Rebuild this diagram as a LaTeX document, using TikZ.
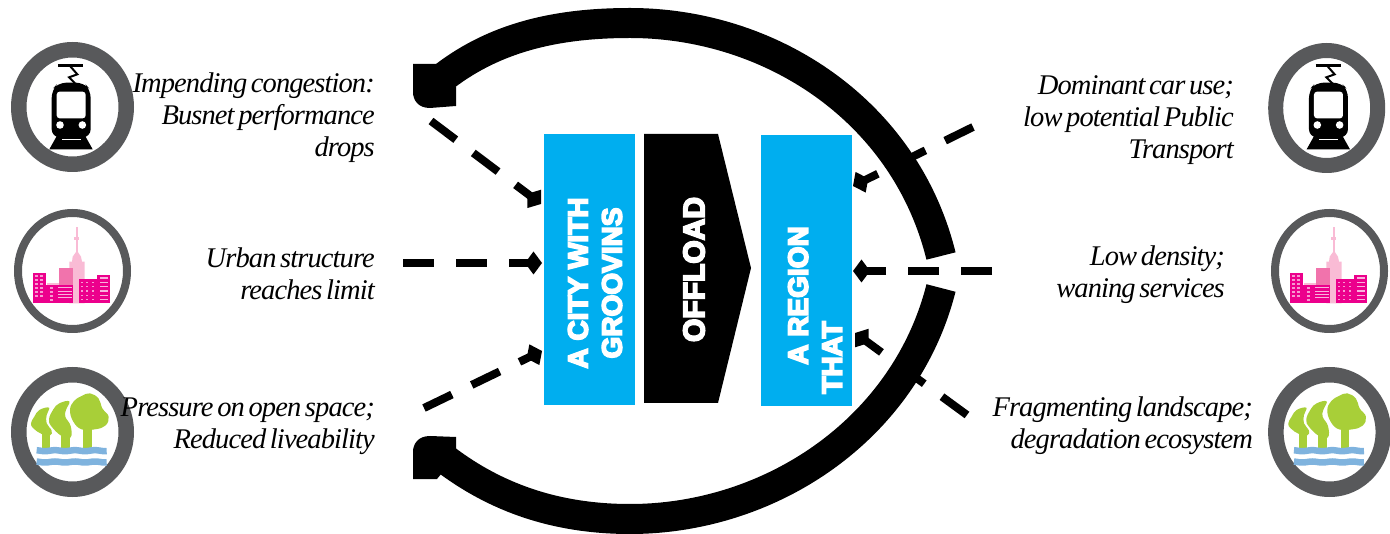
\documentclass[tikz,border=0pt]{standalone}
\usepackage{fontspec}
\usetikzlibrary{arrows.meta}
\setmainfont{Liberation Serif}
\newfontfamily\capfont[LetterSpace=-3.2,WordSpace=0.6]{Liberation Serif Italic}
\newfontfamily\heavyfont[FakeBold=6]{Liberation Sans Bold}
\definecolor{ringgray}{HTML}{58595B}
\definecolor{skyblue}{HTML}{00AEEF}
\definecolor{hotpink}{HTML}{EC008C}
\definecolor{midpink}{HTML}{F173AC}
\definecolor{palepink}{HTML}{F9BBD5}
\definecolor{lime}{HTML}{A8CF38}
\definecolor{waterblue}{HTML}{7FB3DE}
\tikzset{
  caption/.style={font=\capfont\fontsize{28.5}{32}\selectfont,align=right,anchor=east,inner sep=0pt,text=black},
  block/.style={fill=skyblue,draw=none},
  blocktext/.style={font=\heavyfont\fontsize{28}{34}\selectfont,text=white,rotate=90,inner sep=0pt},
  band/.style={line width=30pt,black},
  dashy/.style={line width=8pt,black,dash pattern=on 31pt off 22pt,-{Turned Square[length=17pt,width=23pt]}},
  zoomed/.style={x=0.33333pt,y=-0.33333pt},
}
\newcommand{\ringicon}[5]{\fill[ringgray,even odd rule] (#1,#2) ellipse [x radius=#3,y radius=#4] (#1,#2) ellipse [x radius=#3-#5,y radius=#4-#5];}
\newcommand{\trainicon}{%
  \draw[line width=2.6pt] (175,76) -- (250,76);
  \draw[line width=2pt,line join=miter] (210,78) -- (232,103) -- (207,112) -- (225,130);
  \fill[rounded corners=8pt] (155,292) -- (155,150) -- (175,128) -- (252,128) -- (272,150) -- (272,292) -- cycle;
  \fill[white,rounded corners=3pt] (170,155) rectangle (257,235);
  \fill[white] (180,255) circle [radius=3.8pt] (247,255) circle [radius=3.8pt];
  \fill (172,285) -- (148,328) -- (278,328) -- (254,285) -- cycle;
  \fill[white] (186,296) rectangle (242,300);
}
\newcommand{\cityicon}{%
  \fill[palepink] (229,80) rectangle (233,155);
  \fill[palepink] (223,112) rectangle (238,120);
  \fill[palepink] (218,170) -- (231,152) -- (243,170) -- (246,185) -- (254,185) -- (254,310) -- (208,310) -- (208,185) -- (216,185) -- cycle;
  \fill[midpink] (178,204) rectangle (219,255);
  \fill[palepink] (140,250) rectangle (178,256);
  \fill[hotpink] (100,219) rectangle (139,310);
  \fill[hotpink] (139,254) rectangle (170,310);
  \fill[hotpink] (170,254) rectangle (219,310);
  \fill[hotpink] (237,238) rectangle (293,310);
  \fill[hotpink] (292,224) rectangle (331,310);
  \foreach \y in {226,238,250,262,274,286}{
    \fill[white!60!hotpink] (106,\y) rectangle +(9,4);
    \fill[white!60!hotpink] (121,\y) rectangle +(9,4);
  }
  \foreach \y in {262,274,286,298}{
    \fill[white!60!hotpink] (150,\y) rectangle +(9,4);
  }
  \foreach \y in {262,272,282,292}{
    \fill[white!70!hotpink] (174,\y) rectangle +(42,3);
  }
  \foreach \y in {245,258,271,284,297}{
    \foreach \x in {243,259,275}{
      \fill[white!60!hotpink] (\x,\y) rectangle +(6,4);
    }
  }
  \foreach \y in {232,245,258,271,284,297}{
    \fill[white!70!hotpink] (301,\y) rectangle +(24,4);
  }
}
\newcommand{\treeicon}{%
  \fill[lime] (250,200) rectangle (276,268);
  \fill[lime] (183,225) rectangle (209,268);
  \fill[lime] (126,215) rectangle (150,268);
  \fill[lime] plot[smooth cycle,tension=0.7] coordinates {(245,108) (270,100) (296,116) (307,145) (326,170) (316,197) (285,208) (245,208) (220,185) (210,150) (222,123)};
  \fill[lime] plot[smooth cycle,tension=0.7] coordinates {(178,130) (208,124) (198,150) (196,170) (212,198) (212,232) (185,228) (155,200) (147,178) (160,148)};
  \fill[lime] plot[smooth cycle,tension=0.7] coordinates {(118,150) (147,143) (140,165) (140,190) (155,212) (150,226) (125,222) (100,205) (93,190) (103,170)};
  \draw[waterblue,line width=6.5pt] plot[domain=110:320,samples=70] (\x,{272+1.5*sin(\x*6)});
  \draw[waterblue,line width=6.5pt] plot[domain=110:320,samples=70] (\x,{306+1.5*sin(\x*6)});
}
\begin{document}
\begin{tikzpicture}[x=1pt,y=-1pt]
\useasboundingbox (0,0) rectangle (1390,534);
% rings
\ringicon{72.5}{107}{61.5}{65}{15.5}
\ringicon{72.5}{271}{58.5}{62}{8}
\ringicon{72.5}{432}{61.5}{65}{15.5}
\ringicon{1326.7}{108}{58.5}{65}{15}
\ringicon{1329.5}{271}{58.5}{62}{8}
\ringicon{1329.6}{432}{61.5}{65}{15.5}
% icons
\begin{scope}[shift={(0,40)},zoomed]\trainicon\end{scope}
\begin{scope}[shift={(1257.3,40)},zoomed]\trainicon\end{scope}
\begin{scope}[shift={(0,200)},zoomed]\cityicon\end{scope}
\begin{scope}[shift={(1257,200)},zoomed]\cityicon\end{scope}
\begin{scope}[shift={(0,360)},zoomed]\treeicon\end{scope}
\begin{scope}[shift={(1257.3,360)},zoomed]\treeicon\end{scope}
% blocks
\path[block] (544,134) rectangle (635,405);
\node[blocktext,align=center] (city) at (595,283) {A CITY WITH\\GROOVINS};
\fill[black] (644,134) -- (718,134) -- (751,268) -- (718,403) -- (644,403) -- cycle;
\node[blocktext,font=\heavyfont\fontsize{30}{34}\selectfont] (offload) at (694,269.5) {OFFLOAD};
\path[block] (761,135) rectangle (852,406);
\node[blocktext,align=left] (region) at (815,310) {\hspace*{29pt}A REGION\\THAT};
% bands
\draw[band] (445,76) .. controls (495,38) and (555,23) .. (630,23) .. controls (770,23) and (905,110) .. (941,256);
\draw[band] (445,459) .. controls (495,497) and (555,519) .. (630,519) .. controls (770,519) and (905,430) .. (941,288);
\fill[black] (413,64) -- (437,64) -- (456,87) -- (456,106) -- (430,108) .. controls (418,108) and (413,100) .. (413,92) -- cycle;
\fill[black] (413,479) -- (437,479) -- (456,456) -- (456,437) -- (430,436) .. controls (418,436) and (413,444) .. (413,452) -- cycle;
% captions
\node[caption] (c1) at (375,118) {Impending congestion:\\Busnet performance\\drops};
\node[caption] (c2) at (375,274) {Urban structure\\reaches limit};
\node[caption] (c3) at (375,426) {Pressure on open space;\\Reduced liveability};
\node[caption] (c4) at (1234,120) {Dominant car use;\\low potential  Public\\Transport};
\node[caption] (c5) at (1225,275) {Low density;\\waning services};
\node[caption] (c6) at (1253,426) {Fragmenting landscape;\\degradation ecosystem};
% connector ends
\coordinate (a1) at (431,121); \coordinate (b1) at (541,204);
\coordinate (a2) at (403,263); \coordinate (b2) at (542,263);
\coordinate (a3) at (424,408); \coordinate (b3) at (542,351);
\coordinate (a4) at (973,127); \coordinate (b4) at (853,186);
\coordinate (a5) at (992,271); \coordinate (b5) at (853,271);
\coordinate (a6) at (967,415); \coordinate (b6) at (855,333);
\draw[dashy] (a1) -- (b1);
\draw[dashy] (a2) -- (b2);
\draw[dashy] (a3) -- (b3);
\draw[dashy] (a4) -- (b4);
\draw[dashy] (a5) -- (b5);
\draw[dashy] (a6) -- (b6);
\end{tikzpicture}
\end{document}
